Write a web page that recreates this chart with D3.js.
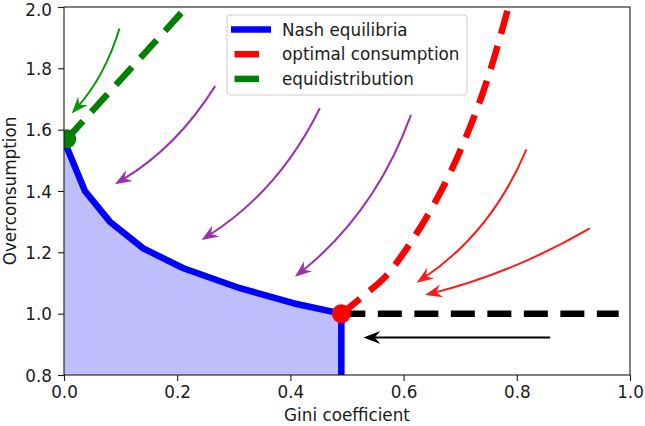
<!DOCTYPE html>
<html>
<head>
<meta charset="utf-8">
<script src="https://cdn.jsdelivr.net/npm/d3@7"></script>
<style>
  body { margin: 0; background: #fff; }
  text { font-family: "DejaVu Sans", sans-serif; fill: #1a1a1a; }
</style>
</head>
<body>
<div id="chart"></div>
<script>
// Nash equilibria curve (ends with the vertical drop at Gini ~0.49)
var nashX = [0.0, 0.037, 0.081, 0.14, 0.211, 0.311, 0.405, 0.49, 0.49];
var nashY = [1.565, 1.40, 1.30, 1.213, 1.148, 1.083, 1.034, 1.0, 0.8];

// optimal consumption (red dashed)
var optX = [0.49, 0.53, 0.57, 0.61, 0.65, 0.68, 0.71, 0.74, 0.76, 0.78, 0.80];
var optY = [1.0, 1.06, 1.125, 1.225, 1.345, 1.45, 1.575, 1.72, 1.835, 1.965, 2.10];

// equidistribution (green dashed)
var equiX = [0.005, 0.23];
var equiY = [1.57, 2.027];

// black dashed line at overconsumption 1
var flatX = [0.49, 0.98];
var flatY = [1.0, 1.0];

// the two marked points
var dotX = [0.005, 0.49];
var dotY = [1.57, 1.0];
var dotColor = ["#008000", "#ff0000"];

// flow arrows: start -> end
var arrowFromX = [0.098, 0.267, 0.452, 0.613, 0.817, 0.929, 0.859];
var arrowFromY = [1.93, 1.742, 1.670, 1.648, 1.536, 1.278, 0.922];
var arrowToX   = [0.0136, 0.090, 0.243, 0.408, 0.623, 0.638, 0.529];
var arrowToY   = [1.653, 1.422, 1.240, 1.12, 1.101, 1.061, 0.922];
var arrowColor = ["#0a960a", "#9b30b0", "#9b30b0", "#9b30b0", "#ff1a1a", "#ff1a1a", "#000000"];
var arrowBend  = [0.11, 0.12, 0.14, 0.14, 0.15, 0.07, 0];

var xTicks = [0.0, 0.2, 0.4, 0.6, 0.8, 1.0];
var yTicks = [0.8, 1.0, 1.2, 1.4, 1.6, 1.8, 2.0];

var legendLabels = ["Nash equilibria", "optimal consumption", "equidistribution"];
var legendColors = ["#0000ff", "#ff0000", "#008000"];

function drawChart() {
    var W = 645, H = 426;
    var margin = {top: 7, right: 15, bottom: 51, left: 64};
    var w = W - margin.left - margin.right;
    var h = H - margin.top - margin.bottom;
    var fs = "16.8px";

    var svg = d3.select("#chart").append("svg")
        .attr("width", W).attr("height", H);

    var g = svg.append("g")
        .attr("transform", "translate(" + margin.left + "," + margin.top + ")");

    var x = d3.scaleLinear().domain([0, 1]).range([0, w]);
    var y = d3.scaleLinear().domain([0.8, 2.0]).range([h, 0]);

    svg.append("defs").append("clipPath").attr("id", "plotclip")
        .append("rect").attr("width", w).attr("height", h);

    var plot = g.append("g").attr("clip-path", "url(#plotclip)");

    var pts = function(xs, ys) { return xs.map(function(v, i) { return [v, ys[i]]; }); };
    var line = d3.line().x(function(d) { return x(d[0]); }).y(function(d) { return y(d[1]); });
    var smooth = d3.line().x(function(d) { return x(d[0]); }).y(function(d) { return y(d[1]); })
        .curve(d3.curveMonotoneX);
    var area = d3.area().x(function(d) { return x(d[0]); })
        .y0(y(0.8)).y1(function(d) { return y(d[1]); });

    var nash = pts(nashX, nashY);

    // shaded region under the Nash curve
    plot.append("path").datum(nash)
        .attr("d", area)
        .attr("fill", "rgb(190,190,253)");

    plot.append("path").datum(nash)
        .attr("d", line)
        .attr("fill", "none").attr("stroke", "#0000ff")
        .attr("stroke-width", 6.5).attr("stroke-linejoin", "round");

    var dash = "24,12.5";
    plot.append("path").datum(pts(optX, optY))
        .attr("d", smooth)
        .attr("fill", "none").attr("stroke", "#ff0000")
        .attr("stroke-width", 6.5).attr("stroke-dasharray", dash);

    plot.append("path").datum(pts(equiX, equiY))
        .attr("d", line)
        .attr("fill", "none").attr("stroke", "#008000")
        .attr("stroke-width", 6.5).attr("stroke-dasharray", dash);

    plot.append("path").datum(pts(flatX, flatY))
        .attr("d", line)
        .attr("fill", "none").attr("stroke", "#000")
        .attr("stroke-width", 6.5).attr("stroke-dasharray", dash);

    plot.selectAll("circle.dot").data(dotX).enter().append("circle")
        .attr("class", "dot")
        .attr("cx", function(d) { return x(d); })
        .attr("cy", function(d, i) { return y(dotY[i]); })
        .attr("r", 9.5)
        .attr("fill", function(d, i) { return dotColor[i]; });

    // curved arrows (quadratic, like an arc3 connection)
    var L = 17, HW = 6.5;
    arrowFromX.forEach(function(fx, i) {
        var x1 = x(fx), y1 = y(arrowFromY[i]);
        var x2 = x(arrowToX[i]), y2 = y(arrowToY[i]);
        var dx = x2 - x1, dy = y2 - y1, f = arrowBend[i];
        var cx = (x1 + x2) / 2 + f * dy, cy = (y1 + y2) / 2 - f * dx;
        var ang = Math.atan2(y2 - cy, x2 - cx);
        var ex = x2 - Math.cos(ang) * L * 0.5, ey = y2 - Math.sin(ang) * L * 0.5;
        var p = d3.path();
        p.moveTo(x1, y1);
        p.quadraticCurveTo(cx, cy, ex, ey);
        plot.append("path").attr("d", p.toString())
            .attr("fill", "none").attr("stroke", arrowColor[i]).attr("stroke-width", 2);
        var head = [[0, 0], [-L, -HW], [-L * 0.66, 0], [-L, HW]];
        plot.append("path")
            .attr("d", "M" + head.map(function(q) { return q.join(","); }).join("L") + "Z")
            .attr("transform", "translate(" + x2 + "," + y2 + ") rotate(" + (ang * 180 / Math.PI) + ")")
            .attr("fill", arrowColor[i]);
    });

    // axes
    var xAxis = g.append("g").attr("transform", "translate(0," + h + ")")
        .call(d3.axisBottom(x).tickValues(xTicks).tickFormat(d3.format(".1f"))
              .tickSize(6).tickPadding(5));
    var yAxis = g.append("g")
        .call(d3.axisLeft(y).tickValues(yTicks).tickFormat(d3.format(".1f"))
              .tickSize(6).tickPadding(6));
    [xAxis, yAxis].forEach(function(a) {
        a.select(".domain").remove();
        a.selectAll("line").attr("stroke", "#1a1a1a").attr("stroke-width", 1.1);
        a.selectAll("text").style("font-size", fs).attr("fill", "#1a1a1a");
    });
    // nudge the top label so it stays inside the picture
    yAxis.selectAll("text").attr("dy", function(d) { return d === 2.0 ? "0.52em" : "0.36em"; });

    g.append("rect").attr("width", w).attr("height", h)
        .attr("fill", "none").attr("stroke", "#1a1a1a").attr("stroke-width", 1.1);

    // axis labels
    svg.append("text")
        .attr("x", margin.left + w / 2).attr("y", 421)
        .attr("text-anchor", "middle").style("font-size", fs)
        .text("Gini coefficient");
    svg.append("text")
        .attr("transform", "translate(15.5," + (margin.top + h / 2) + ") rotate(-90)")
        .attr("text-anchor", "middle").style("font-size", fs)
        .text("Overconsumption");

    // legend
    var leg = svg.append("g").attr("transform", "translate(227,15)");
    leg.append("rect").attr("width", 240).attr("height", 80).attr("rx", 3)
        .attr("fill", "#fff").attr("fill-opacity", 0.8)
        .attr("stroke", "#cccccc").attr("stroke-width", 1);
    legendLabels.forEach(function(lab, i) {
        var ly = 14.5 + i * 24.7;
        var item = leg.append("line")
            .attr("y1", ly).attr("y2", ly)
            .attr("stroke", legendColors[i]).attr("stroke-width", 6.5);
        if (i === 0) item.attr("x1", 4).attr("x2", 44);
        else item.attr("x1", 7.5).attr("x2", 32);
        leg.append("text").attr("x", 55).attr("y", ly + 6)
            .style("font-size", fs).text(lab);
    });
}

window.onload = drawChart;
</script>
</body>
</html>
